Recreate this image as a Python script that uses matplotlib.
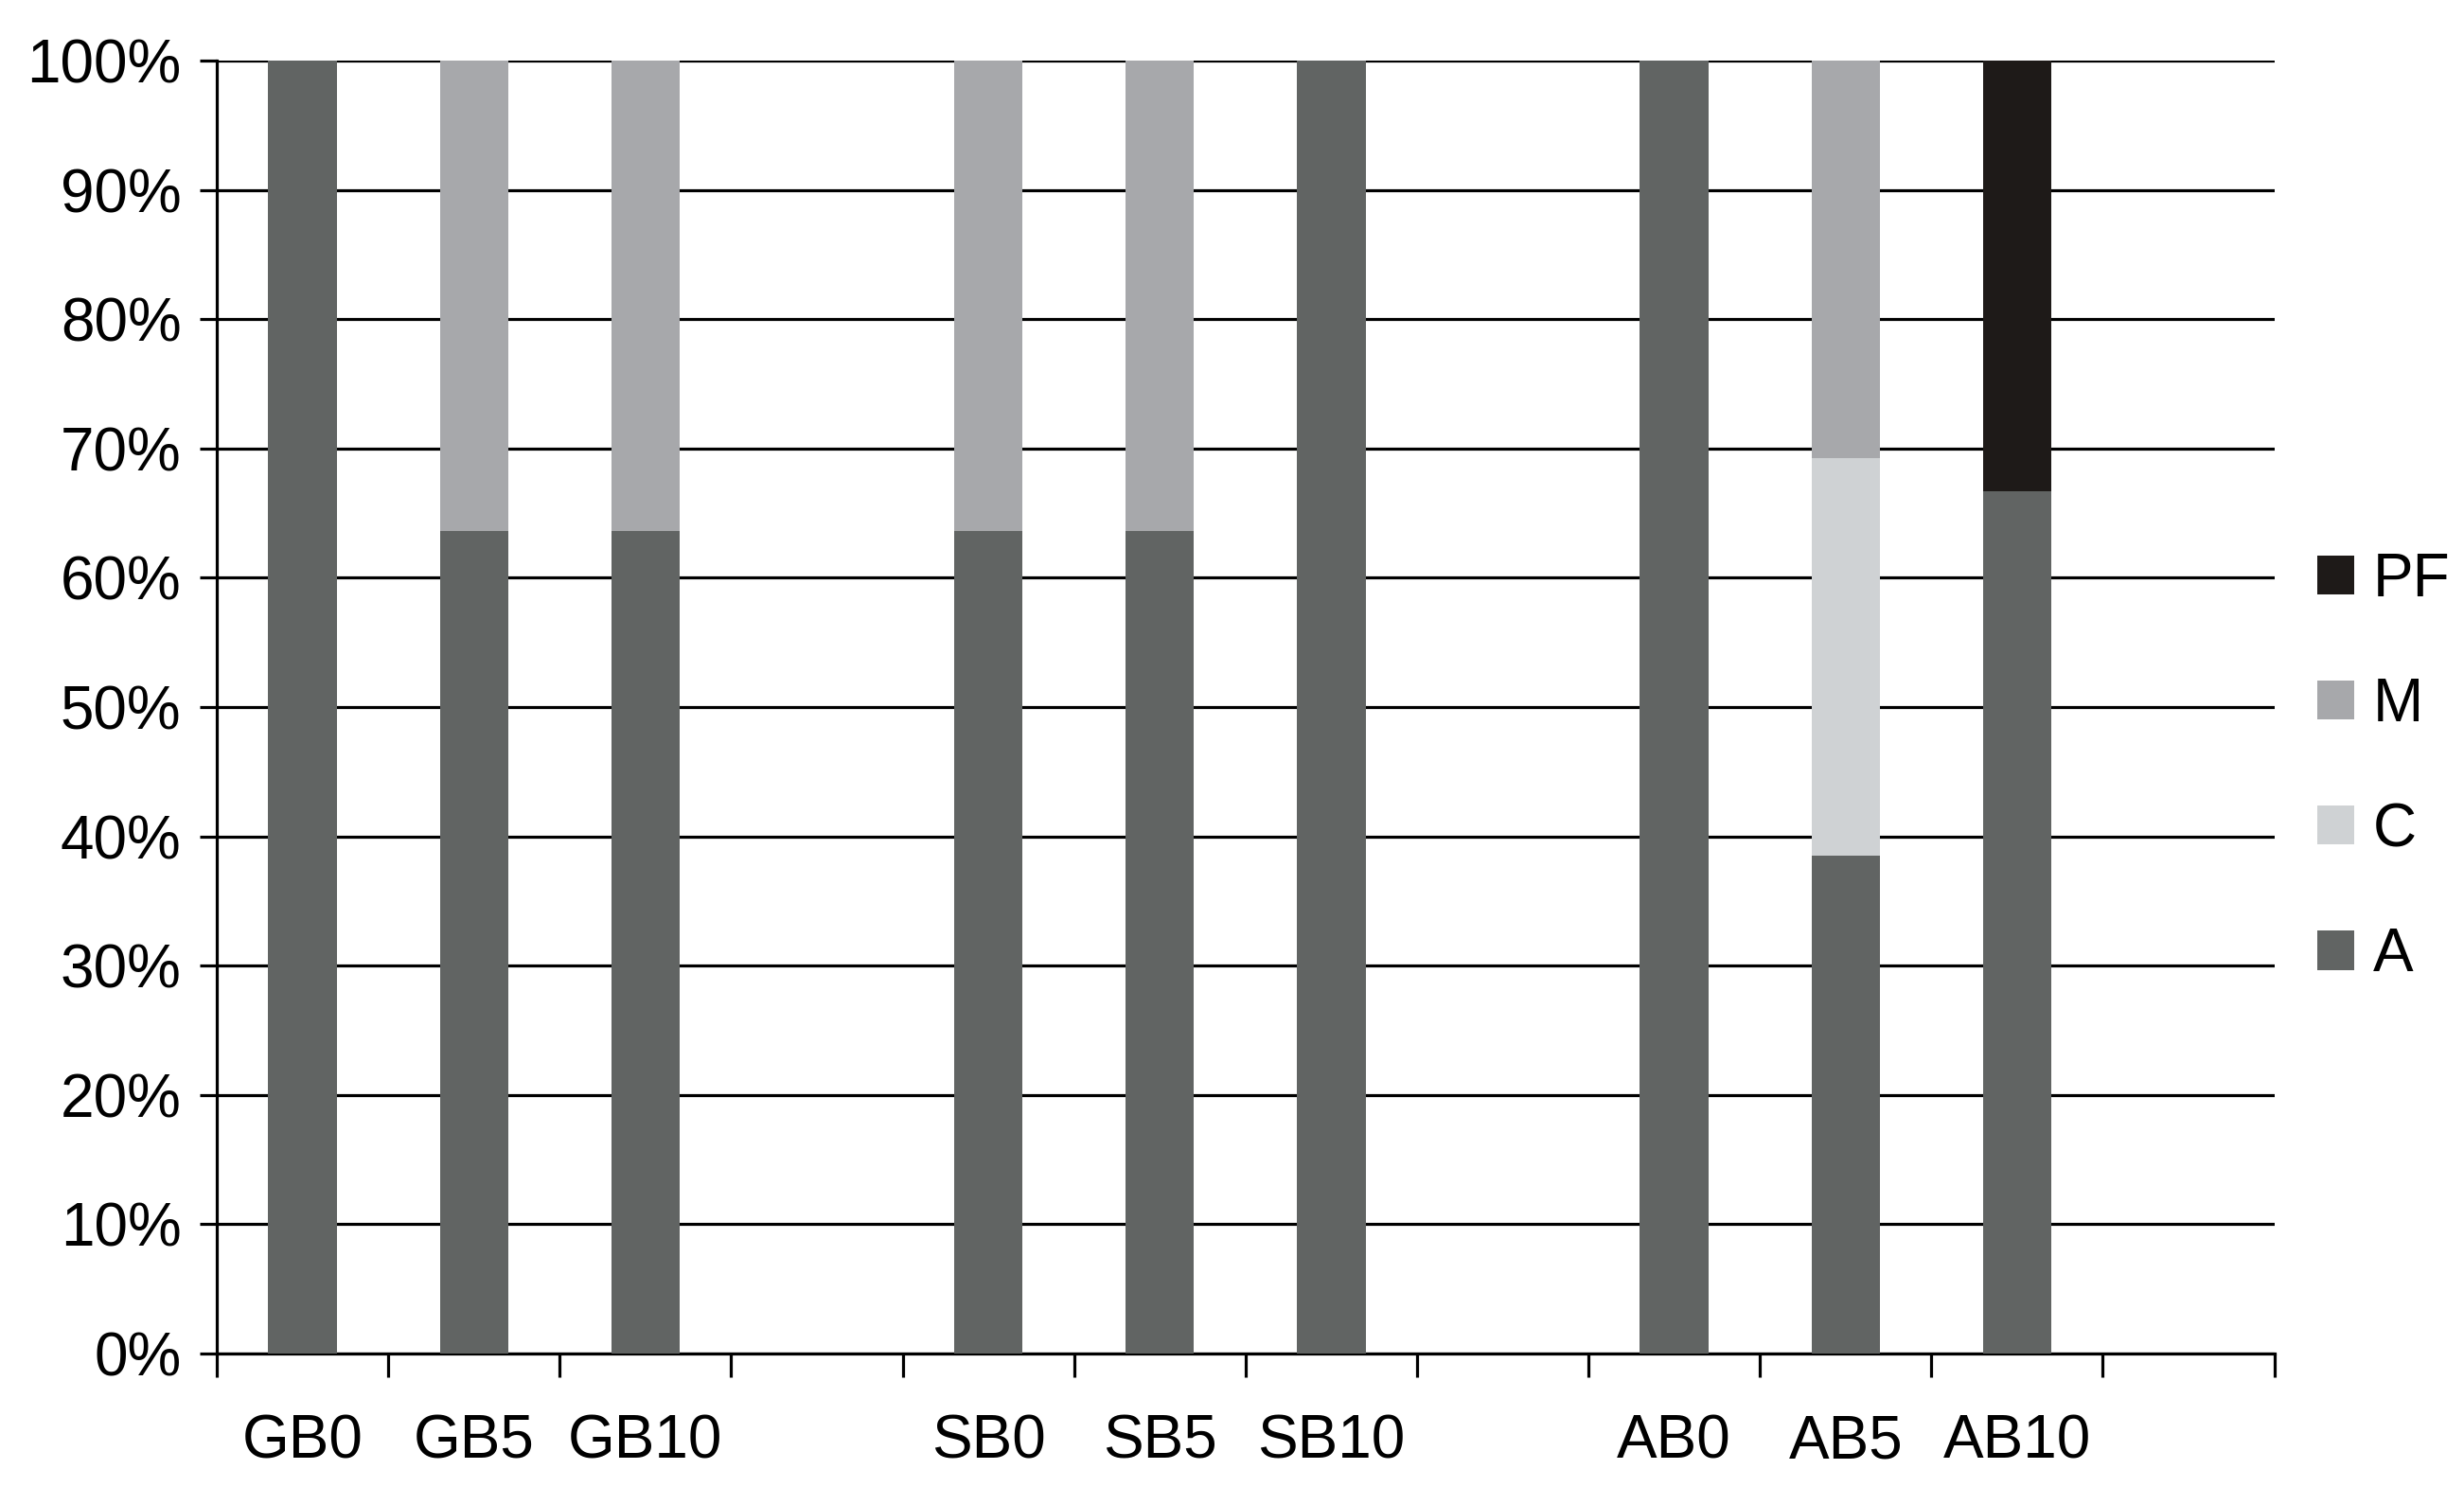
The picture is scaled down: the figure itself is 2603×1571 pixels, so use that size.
import numpy as np
import matplotlib.pyplot as plt

# composition (%) of each sample; empty slots separate the groups
samples = ['GB0', 'GB5', 'GB10', '', 'SB0', 'SB5', 'SB10', '', 'AB0', 'AB5', 'AB10', '']
A  = [100, 63.6, 63.6, 0, 63.6, 63.6, 100, 0, 100, 38.5, 66.7, 0]
C  = [0, 0, 0, 0, 0, 0, 0, 0, 0, 30.8, 0, 0]
M  = [0, 36.4, 36.4, 0, 36.4, 36.4, 0, 0, 0, 30.7, 0, 0]
PF = [0, 0, 0, 0, 0, 0, 0, 0, 0, 0, 33.3, 0]

series = [('A', A, '#616463'), ('C', C, '#cfd2d4'), ('M', M, '#a7a8ab'), ('PF', PF, '#1e1a18')]

plt.rcParams['font.family'] = ['Liberation Sans', 'DejaVu Sans']

fig = plt.figure(figsize=(26.03, 15.71), dpi=100)
ax = fig.add_axes([0.088, 0.090, 0.835, 0.869])

x = np.arange(len(samples))
bottom = np.zeros(len(samples))
handles = []
for name, vals, col in series:
    vals = np.array(vals, dtype=float)
    b = ax.bar(x, vals, width=0.4, bottom=bottom, color=col, label=name, zorder=3)
    handles.append(b)
    bottom += vals

ax.set_xlim(-0.5, len(samples) - 0.5)
ax.set_ylim(0, 100)

# y axis: gridlines every 10 %
ax.set_yticks(np.arange(0, 101, 10))
ax.set_yticklabels([f'{v}%' for v in range(0, 101, 10)])
ax.yaxis.grid(True, color='black', linewidth=2.3, zorder=0)
ax.set_axisbelow(True)

# x axis: ticks between slots, labels under the bars
ax.set_xticks(np.arange(-0.5, len(samples), 1.0))
ax.set_xticklabels([])
ax.set_xticks(x, minor=True)
ax.set_xticklabels(samples, minor=True)
ax.tick_params(axis='x', which='major', length=18, width=2.3, direction='out')
ax.tick_params(axis='x', which='minor', length=0, pad=46, labelsize=46)
ax.tick_params(axis='y', length=13, width=2.3, direction='out', pad=14, labelsize=46)

for s in ['top', 'right']:
    ax.spines[s].set_visible(False)
for s in ['left', 'bottom']:
    ax.spines[s].set_linewidth(2.3)
    ax.spines[s].set_color('black')

ax.legend(handles[::-1], [h.get_label() for h in handles[::-1]],
          loc='center left', bbox_to_anchor=(1.009, 0.453), frameon=False,
          fontsize=46, handlelength=0.62, handleheight=0.62,
          handletextpad=0.3, labelspacing=1.13, borderaxespad=0)

fig.savefig('out.png', dpi=100)
